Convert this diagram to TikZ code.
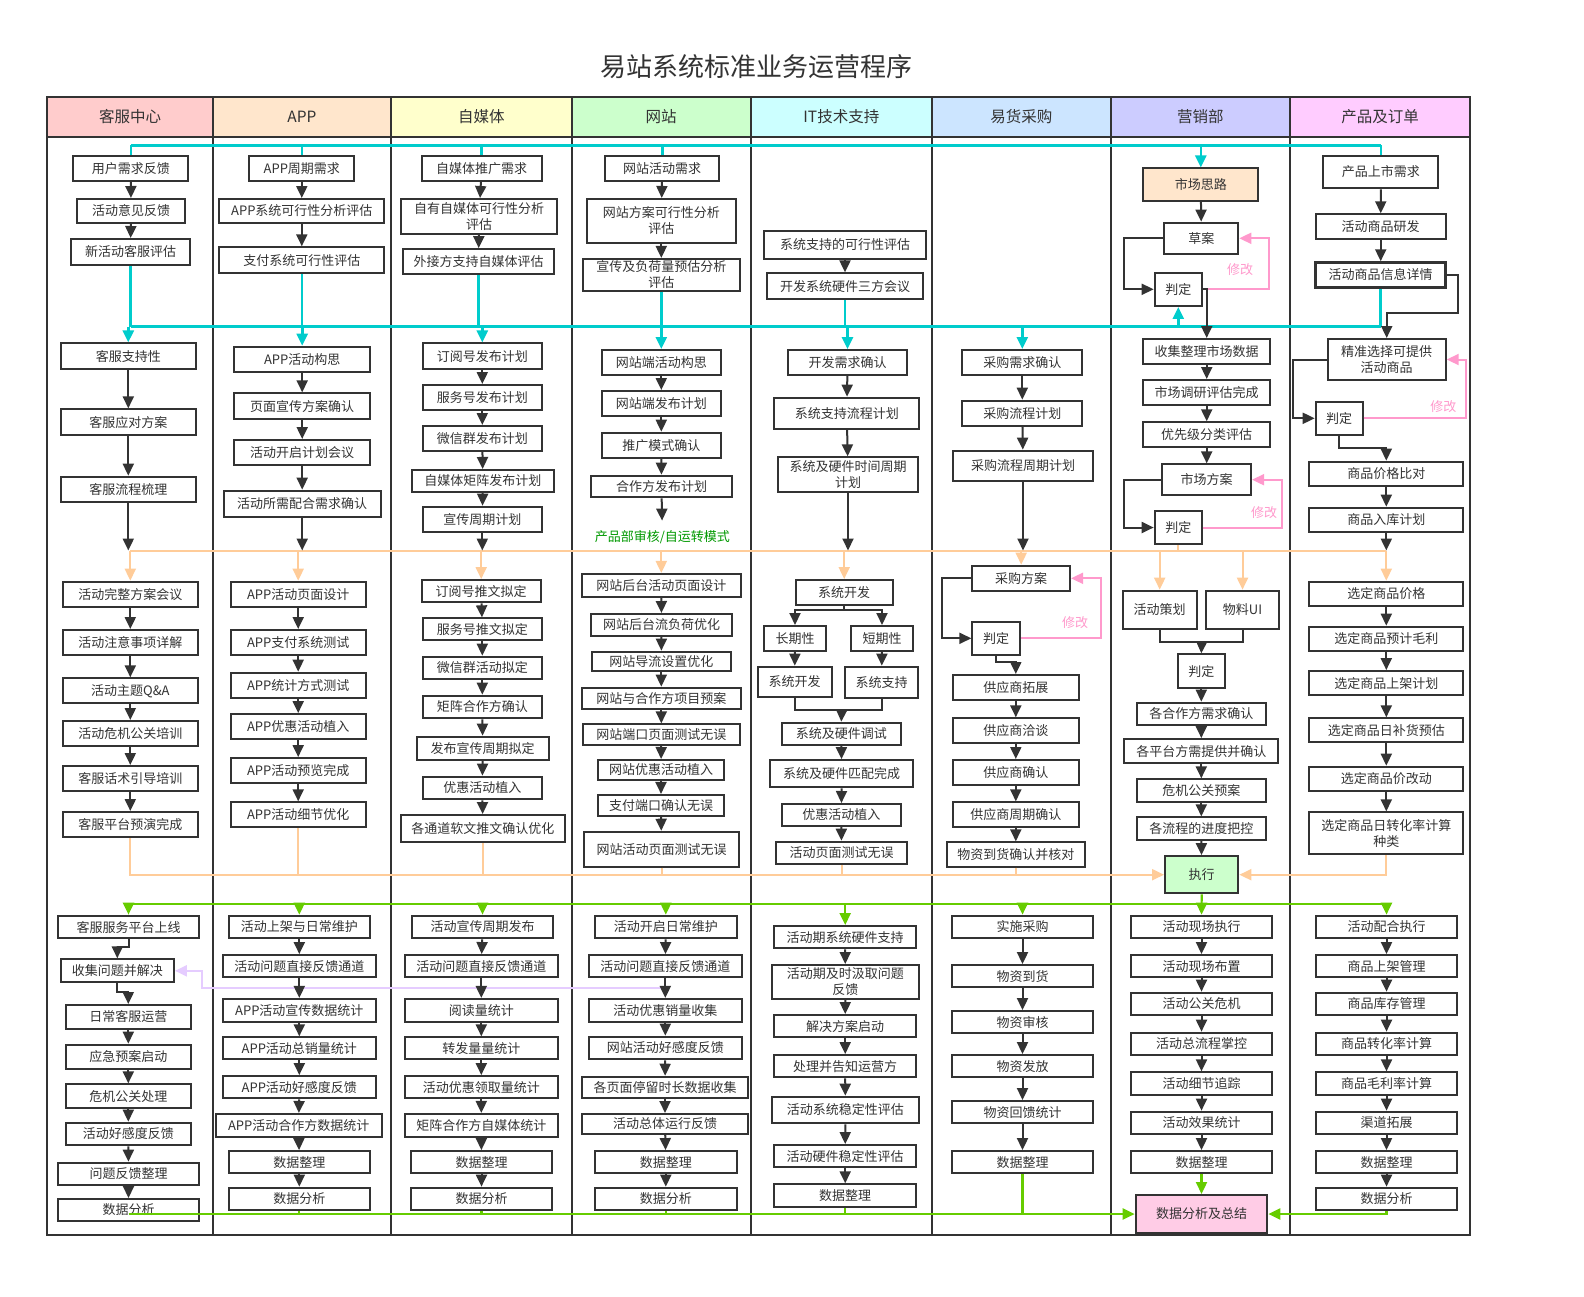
\documentclass[tikz,border=0pt]{standalone}
\usepackage{fontspec}
\setmainfont{Noto Sans CJK SC}
\usetikzlibrary{arrows.meta}

\definecolor{ink}{HTML}{333333}
\definecolor{lnCyan}{HTML}{00CCCC}
\definecolor{lnOrange}{HTML}{FFCC99}
\definecolor{lnGreen}{HTML}{66CC00}
\definecolor{lnPink}{HTML}{FF99CC}
\definecolor{lnPurple}{HTML}{E5CCFF}
\definecolor{txGreen}{HTML}{009900}
\definecolor{hdA}{HTML}{FFCCCC}
\definecolor{hdB}{HTML}{FFE6CC}
\definecolor{hdC}{HTML}{FFFFCC}
\definecolor{hdD}{HTML}{CCFFCC}
\definecolor{hdE}{HTML}{CCFFFF}
\definecolor{hdF}{HTML}{CCE5FF}
\definecolor{hdG}{HTML}{CCCCFF}
\definecolor{hdH}{HTML}{FFCCFF}
\definecolor{fillRose}{HTML}{FFCCE6}

\begin{document}
\begin{tikzpicture}[x=1pt, y=-1pt,
    >={Triangle[length=12pt,width=11pt]},
    box/.style={draw=ink, line width=2pt, fill=white, text=ink, align=center,
      inner sep=0pt, font=\fontsize{13}{16}\selectfont},
    wh/.style 2 args={minimum width=#1, minimum height=#2},
    head/.style={text=ink, inner sep=0pt, minimum height=40, font=\fontsize{15.5}{18}\selectfont},
    lane/.style={draw=ink, line width=2pt},
    flow/.style={draw=ink, line width=2pt},
    arr/.style={flow, ->},
    cyanl/.style={draw=lnCyan, line width=2.6pt},
    cyana/.style={cyanl, ->},
    orgl/.style={draw=lnOrange, line width=2pt},
    orga/.style={orgl, ->},
    grnl/.style={draw=lnGreen, line width=2.2pt},
    grna/.style={grnl, ->},
    pinka/.style={draw=lnPink, line width=2pt, ->},
    purpa/.style={draw=lnPurple, line width=2pt, ->},
    note/.style={text=lnPink, inner sep=0pt, font=\fontsize{13}{16}\selectfont}]

\path[use as bounding box, fill=white] (0,0) rectangle (1584,1296);

% title and lane heads
\node[text=ink, font=\fontsize{26}{30}\selectfont] (title) at (756.7,66.7) {易站系统标准业务运营程序};
\node[head, fill=hdA, minimum width=165.4] (h1) at (130,116.7) {客服中心};
\node[head, fill=hdB, minimum width=178.3] (h2) at (301.85,116.7) {APP};
\node[head, fill=hdC, minimum width=180.7] (h3) at (481.35,116.7) {自媒体};
\node[head, fill=hdD, minimum width=179] (h4) at (661.2,116.7) {网站};
\node[head, fill=hdE, minimum width=181.3] (h5) at (841.35,116.7) {IT技术支持};
\node[head, fill=hdF, minimum width=178.7] (h6) at (1021.35,116.7) {易货采购};
\node[head, fill=hdG, minimum width=179.3] (h7) at (1200.35,116.7) {营销部};
\node[head, fill=hdH, minimum width=180] (h8) at (1380,116.7) {产品及订单};
\draw[lane] (47.3,96.7) rectangle (1470,1235);
\draw[lane] (47.3,136.7) -- (1470,136.7);
\foreach \x in {212.7,391,571.7,750.7,932,1110.7,1290}
  \draw[lane] (\x,96.7) -- (\x,1235);

% 客服中心
\node[box, wh={115}{25}] (kf1) at (130.8,168.3) {用户需求反馈};
\node[box, wh={108.7}{24}] (kf2) at (131,211) {活动意见反馈};
\node[box, wh={119.7}{26}] (kf3) at (130.5,252) {新活动客服评估};
\node[box, wh={135.3}{25.7}] (kf4) at (128.3,356.2) {客服支持性};
\node[box, wh={135.3}{25.7}] (kf5) at (128.3,422.2) {客服应对方案};
\node[box, wh={135.3}{25.7}] (kf6) at (128.3,489.5) {客服流程梳理};
\node[box, wh={135.3}{25.7}] (kf7) at (130.3,594.5) {活动完整方案会议};
\node[box, wh={135.3}{25}] (kf8) at (130.3,642.5) {活动注意事项详解};
\node[box, wh={135.3}{25}] (kf9) at (130.3,690.8) {活动主题Q\&A};
\node[box, wh={135.3}{25}] (kf10) at (130.3,733.5) {活动危机公关培训};
\node[box, wh={135.3}{25}] (kf11) at (130.3,778.5) {客服话术引导培训};
\node[box, wh={135.3}{25}] (kf12) at (130.3,824.5) {客服平台预演完成};
\node[box, wh={141.7}{22.7}] (kf13) at (128.5,927) {客服服务平台上线};
\node[box, wh={113.3}{23}] (kf14) at (117.3,970.8) {收集问题并解决};
\node[box, wh={125.3}{24}] (kf15) at (128.3,1017) {日常客服运营};
\node[box, wh={125.3}{24.3}] (kf16) at (128.3,1056.8) {应急预案启动};
\node[box, wh={125.3}{24}] (kf17) at (128.3,1096.3) {危机公关处理};
\node[box, wh={125.3}{22.7}] (kf18) at (128.3,1134) {活动好感度反馈};
\node[box, wh={141.7}{22.3}] (kf19) at (128.5,1173.8) {问题反馈整理};
\node[box, wh={141.7}{22}] (kf20) at (128.5,1210) {数据分析};

% APP
\node[box, wh={105}{25}] (ap1) at (301.8,168.3) {APP周期需求};
\node[box, wh={164.7}{24}] (ap2) at (301.8,211) {APP系统可行性分析评估};
\node[box, wh={164.7}{26}] (ap3) at (301.8,260.3) {支付系统可行性评估};
\node[box, wh={135.7}{25.7}] (ap4) at (302.2,359.5) {APP活动构思};
\node[box, wh={135.7}{25.7}] (ap5) at (302.2,406.2) {页面宣传方案确认};
\node[box, wh={135.7}{25}] (ap6) at (302.2,452.5) {活动开启计划会议};
\node[box, wh={157.3}{26.7}] (ap7) at (302.2,504) {活动所需配合需求确认};
\node[box, wh={135}{25.7}] (ap8) at (298.2,594.5) {APP活动页面设计};
\node[box, wh={135}{25}] (ap9) at (298.2,642.5) {APP支付系统测试};
\node[box, wh={135}{25.7}] (ap10) at (298.2,685.5) {APP统计方式测试};
\node[box, wh={135}{25.3}] (ap11) at (298.2,726.7) {APP优惠活动植入};
\node[box, wh={135}{25.3}] (ap12) at (298.2,770.7) {APP活动预览完成};
\node[box, wh={135}{25}] (ap13) at (298.2,814.8) {APP活动细节优化};
\node[box, wh={141.3}{22.7}] (ap14) at (299.3,927) {活动上架与日常维护};
\node[box, wh={153}{22.3}] (ap15) at (299.3,966.2) {活动问题直接反馈通道};
\node[box, wh={153}{22.7}] (ap16) at (299.3,1010.3) {APP活动宣传数据统计};
\node[box, wh={153}{22}] (ap17) at (299.3,1048.3) {APP活动总销量统计};
\node[box, wh={153}{22.3}] (ap18) at (299.3,1087.2) {APP活动好感度反馈};
\node[box, wh={166}{22.7}] (ap19) at (298.7,1125.3) {APP活动合作方数据统计};
\node[box, wh={141.3}{22.3}] (ap20) at (299.3,1162.2) {数据整理};
\node[box, wh={141.3}{22.3}] (ap21) at (299.3,1198.8) {数据分析};

% 自媒体
\node[box, wh={120}{25}] (zm1) at (481.7,168.3) {自媒体推广需求};
\node[box, wh={156.7}{35}] (zm2) at (479,216.5) {自有自媒体可行性分析\\评估};
\node[box, wh={151.7}{25.3}] (zm3) at (478.5,261.7) {外接方支持自媒体评估};
\node[box, wh={119.3}{25.7}] (zm4) at (482.3,356.2) {订阅号发布计划};
\node[box, wh={119.3}{25}] (zm5) at (482.3,397.5) {服务号发布计划};
\node[box, wh={119.3}{25}] (zm6) at (482.3,438.5) {微信群发布计划};
\node[box, wh={142.3}{21.7}] (zm7) at (482.8,480.8) {自媒体矩阵发布计划};
\node[box, wh={119.3}{25.7}] (zm8) at (482.3,519.5) {宣传周期计划};
\node[box, wh={119}{22.3}] (zm9) at (481.2,591.2) {订阅号推文拟定};
\node[box, wh={119.3}{21.7}] (zm10) at (482.3,629.2) {服务号推文拟定};
\node[box, wh={119.3}{22.7}] (zm11) at (482.3,668) {微信群活动拟定};
\node[box, wh={119.3}{22.7}] (zm12) at (482.3,707) {矩阵合作方确认};
\node[box, wh={132}{23.3}] (zm13) at (482.7,748.3) {发布宣传周期拟定};
\node[box, wh={119.3}{22.7}] (zm14) at (482.3,788) {优惠活动植入};
\node[box, wh={164.3}{27.3}] (zm15) at (482.8,828.7) {各通道软文推文确认优化};
\node[box, wh={141.7}{22.7}] (zm16) at (482.5,927) {活动宣传周期发布};
\node[box, wh={152.7}{22.3}] (zm17) at (481.3,966.2) {活动问题直接反馈通道};
\node[box, wh={152.7}{22.7}] (zm18) at (481.3,1010.3) {阅读量统计};
\node[box, wh={152.7}{22}] (zm19) at (481.3,1048.3) {转发量量统计};
\node[box, wh={152.7}{22.3}] (zm20) at (481.3,1087.2) {活动优惠领取量统计};
\node[box, wh={152.7}{22.7}] (zm21) at (481.3,1125.3) {矩阵合作方自媒体统计};
\node[box, wh={141.7}{22.3}] (zm22) at (481.5,1162.2) {数据整理};
\node[box, wh={141.7}{22.3}] (zm23) at (481.5,1198.8) {数据分析};

% 网站
\node[box, wh={114.3}{25}] (wz1) at (662.2,168.3) {网站活动需求};
\node[box, wh={149.3}{43.7}] (wz2) at (661.3,220.8) {网站方案可行性分析\\评估};
\node[box, wh={157.3}{31.7}] (wz3) at (661.3,274.8) {宣传及负荷量预估分析\\评估};
\node[box, wh={119.3}{25}] (wz4) at (661.3,362.5) {网站端活动构思};
\node[box, wh={119.3}{25}] (wz5) at (661.3,403.5) {网站端发布计划};
\node[box, wh={119.3}{25}] (wz6) at (661.3,445.2) {推广模式确认};
\node[box, wh={141.7}{21.7}] (wz7) at (661.5,486.5) {合作方发布计划};
\node[text=txGreen, inner sep=0pt, font=\fontsize{13}{16}\selectfont] (wzt) at (662.3,537.5) {产品部审核/自运转模式};
\node[box, wh={159.3}{22.7}] (wz8) at (661.3,585.3) {网站后台活动页面设计};
\node[box, wh={141.7}{22}] (wz9) at (661.5,625) {网站后台流负荷优化};
\node[box, wh={139.3}{19.3}] (wz10) at (661.3,661.3) {网站导流设置优化};
\node[box, wh={159.3}{21.3}] (wz11) at (661.3,698.3) {网站与合作方项目预案};
\node[box, wh={157.3}{20.7}] (wz12) at (661.3,734.7) {网站端口页面测试无误};
\node[box, wh={126.7}{20}] (wz13) at (661,770) {网站优惠活动植入};
\node[box, wh={126.7}{20.7}] (wz14) at (661,805.3) {支付端口确认无误};
\node[box, wh={155}{35}] (wz15) at (661.5,849.2) {网站活动页面测试无误};
\node[box, wh={141.7}{22.7}] (wz16) at (665.8,927) {活动开启日常维护};
\node[box, wh={152.7}{22.3}] (wz17) at (665.3,966.2) {活动问题直接反馈通道};
\node[box, wh={152.7}{22.7}] (wz18) at (665.3,1010.3) {活动优惠销量收集};
\node[box, wh={152.7}{22.7}] (wz19) at (665.3,1048) {网站活动好感度反馈};
\node[box, wh={166.7}{21}] (wz20) at (665,1087.2) {各页面停留时长数据收集};
\node[box, wh={166.7}{20}] (wz21) at (665,1124) {活动总体运行反馈};
\node[box, wh={141.7}{22.3}] (wz22) at (665.8,1162.2) {数据整理};
\node[box, wh={141.7}{22.3}] (wz23) at (665.8,1198.8) {数据分析};

% IT技术支持
\node[box, wh={162}{28}] (it1) at (845,245) {系统支持的可行性评估};
\node[box, wh={156.7}{25.7}] (it2) at (845,286.2) {开发系统硬件三方会议};
\node[box, wh={119.7}{25}] (it3) at (847.5,362.5) {开发需求确认};
\node[box, wh={145}{31.3}] (it4) at (846.8,413.3) {系统支持流程计划};
\node[box, wh={140.7}{34.3}] (it5) at (848,474.5) {系统及硬件时间周期\\计划};
\node[box, wh={97}{25}] (it6) at (844.2,592.5) {系统开发};
\node[box, wh={62}{25}] (it7) at (795,638.5) {长期性};
\node[box, wh={62.7}{25}] (it8) at (882,638.5) {短期性};
\node[box, wh={74}{30}] (it9) at (794.7,681.7) {系统开发};
\node[box, wh={73.3}{31.7}] (it10) at (881.7,682.5) {系统支持};
\node[box, wh={119.3}{22.3}] (it11) at (841.3,733.8) {系统及硬件调试};
\node[box, wh={143.3}{27.3}] (it12) at (841.7,773.7) {系统及硬件匹配完成};
\node[box, wh={119.3}{22}] (it13) at (841.3,815) {优惠活动植入};
\node[box, wh={131.7}{22.3}] (it14) at (841.5,852.8) {活动页面测试无误};
\node[box, wh={141.7}{22.3}] (it15) at (845.2,937.2) {活动期系统硬件支持};
\node[box, wh={147.3}{34}] (it16) at (845.3,982) {活动期及时汲取问题\\反馈};
\node[box, wh={141.7}{22.3}] (it17) at (845.2,1026.2) {解决方案启动};
\node[box, wh={141.7}{22.3}] (it18) at (845.2,1066.2) {处理并告知运营方};
\node[box, wh={147.3}{26.7}] (it19) at (845.3,1110) {活动系统稳定性评估};
\node[box, wh={141.7}{22.3}] (it20) at (845.2,1156.2) {活动硬件稳定性评估};
\node[box, wh={141.7}{23}] (it21) at (845.2,1195.8) {数据整理};

% 易货采购
\node[box, wh={120}{25}] (hg1) at (1022.3,362.5) {采购需求确认};
\node[box, wh={120}{25.3}] (hg2) at (1022.3,413.3) {采购流程计划};
\node[box, wh={140.7}{30.3}] (hg3) at (1023,465.8) {采购流程周期计划};
\node[box, wh={97.7}{25.3}] (hg4) at (1021.2,578.3) {采购方案};
\node[box, wh={47.7}{33.3}] (hg5) at (996.2,638.3) {判定};
\node[box, wh={126.3}{25}] (hg6) at (1015.8,687.5) {供应商拓展};
\node[box, wh={126.3}{25}] (hg7) at (1015.8,730.8) {供应商洽谈};
\node[box, wh={126.3}{25}] (hg8) at (1015.8,772.5) {供应商确认};
\node[box, wh={126.3}{24.3}] (hg9) at (1015.8,814.5) {供应商周期确认};
\node[box, wh={138.3}{24.3}] (hg10) at (1015.8,854.5) {物资到货确认并核对};
\node[box, wh={141.7}{22.7}] (hg11) at (1022.5,927) {实施采购};
\node[box, wh={141.7}{22.3}] (hg12) at (1022.5,976.2) {物资到货};
\node[box, wh={141.7}{22.3}] (hg13) at (1022.5,1022.2) {物资审核};
\node[box, wh={141.7}{22.3}] (hg14) at (1022.5,1066.2) {物资发放};
\node[box, wh={141.7}{22.3}] (hg15) at (1022.5,1112.2) {物资回馈统计};
\node[box, wh={141.7}{22.3}] (hg16) at (1022.5,1162.2) {数据整理};

% 营销部
\node[box, wh={115}{32.7}, fill=hdB] (yx1) at (1200.8,184.7) {市场思路};
\node[box, wh={74}{31.3}] (yx2) at (1201.3,238.3) {草案};
\node[box, wh={47.3}{33.3}] (yx3) at (1178.3,289.3) {判定};
\node[box, wh={126.7}{25}] (yx4) at (1206.7,351.5) {收集整理市场数据};
\node[box, wh={126.7}{25}] (yx5) at (1206.7,392.5) {市场调研评估完成};
\node[box, wh={126.7}{25}] (yx6) at (1206.7,434.8) {优先级分类评估};
\node[box, wh={88.7}{30.7}] (yx7) at (1206.7,479.7) {市场方案};
\node[box, wh={47.3}{33}] (yx8) at (1178.3,527.5) {判定};
\node[box, wh={74}{38.3}] (yx9) at (1159.7,609.8) {活动策划};
\node[box, wh={73.7}{38.3}] (yx10) at (1242.5,609.8) {物料UI};
\node[box, wh={47.3}{34}] (yx11) at (1201.3,671.3) {判定};
\node[box, wh={129.3}{22.3}] (yx12) at (1201.3,713.8) {各合作方需求确认};
\node[box, wh={154}{24.3}] (yx13) at (1201.3,751.2) {各平台方需提供并确认};
\node[box, wh={129.3}{23}] (yx14) at (1201.3,790.8) {危机公关预案};
\node[box, wh={129.3}{22.7}] (yx15) at (1201.3,828.7) {各流程的进度把控};
\node[box, wh={73.3}{37.3}, fill=hdD] (exe) at (1201.7,874.7) {执行};
\node[box, wh={141.7}{22.7}] (yx16) at (1201.5,927) {活动现场执行};
\node[box, wh={141.7}{22.3}] (yx17) at (1201.5,966.2) {活动现场布置};
\node[box, wh={141.7}{22.3}] (yx18) at (1201.5,1003.8) {活动公关危机};
\node[box, wh={141.7}{22.3}] (yx19) at (1201.5,1043.8) {活动总流程掌控};
\node[box, wh={141.7}{22.7}] (yx20) at (1201.5,1083.7) {活动细节追踪};
\node[box, wh={141.7}{22.3}] (yx21) at (1201.5,1122.8) {活动效果统计};
\node[box, wh={141.7}{22.3}] (yx22) at (1201.5,1162.2) {数据整理};
\node[box, wh={131.7}{38}, fill=fillRose] (sum) at (1201.5,1214) {数据分析及总结};

% 产品及订单
\node[box, wh={115}{32.7}] (cp1) at (1380.8,172) {产品上市需求};
\node[box, wh={130}{25}] (cp2) at (1380.7,226.8) {活动商品研发};
\node[box, wh={130}{24.7}, line width=2.8pt] (cp3) at (1380.7,275) {活动商品信息详情};
\node[box, wh={118}{41}] (cp4) at (1386.7,359.5) {精准选择可提供\\活动商品};
\node[box, wh={47}{33.3}] (cp5) at (1339.2,418.3) {判定};
\node[box, wh={154}{24.3}] (cp6) at (1386.3,473.8) {商品价格比对};
\node[box, wh={154}{24.7}] (cp7) at (1386.3,520) {商品入库计划};
\node[box, wh={154}{24.3}] (cp8) at (1386.3,593.8) {选定商品价格};
\node[box, wh={154}{24.3}] (cp9) at (1386.3,638.8) {选定商品预计毛利};
\node[box, wh={154}{24.3}] (cp10) at (1386.3,683.2) {选定商品上架计划};
\node[box, wh={154}{24}] (cp11) at (1386.3,730.3) {选定商品日补货预估};
\node[box, wh={154}{24.3}] (cp12) at (1386.3,778.8) {选定商品价改动};
\node[box, wh={154}{41.7}] (cp13) at (1386.3,833.2) {选定商品日转化率计算\\种类};
\node[box, wh={141.7}{22.7}] (cp14) at (1386.5,927) {活动配合执行};
\node[box, wh={141.7}{22.3}] (cp15) at (1386.5,966.2) {商品上架管理};
\node[box, wh={141.7}{22.3}] (cp16) at (1386.5,1003.8) {商品库存管理};
\node[box, wh={141.7}{22.3}] (cp17) at (1386.5,1043.8) {商品转化率计算};
\node[box, wh={141.7}{22.7}] (cp18) at (1386.5,1083.7) {商品毛利率计算};
\node[box, wh={141.7}{22.3}] (cp19) at (1386.5,1122.8) {渠道拓展};
\node[box, wh={141.7}{22.3}] (cp20) at (1386.5,1162.2) {数据整理};
\node[box, wh={141.7}{22.3}] (cp21) at (1386.5,1198.8) {数据分析};

% trunk lines
\coordinate (ctop) at (0,145.3);
\coordinate (cbot) at (0,326.7);
\coordinate (otop) at (0,550.5);
\coordinate (gtop) at (0,904.3);
\coordinate (gbot) at (0,1214);
\coordinate (cpk) at (0,312.7);

% feedback to 收集问题并解决
\draw[purpa] (wz17.south) |- (202.3,988.3) |- (kf14.east);

% cyan
\draw[cyanl] (kf1.north |- ctop) -- (cp1.north |- ctop);
\foreach \n in {kf1,ap1,zm1,wz1,cp1}
  \draw[cyanl] (\n.north |- ctop) -- (\n.north);
\draw[cyana] (yx1.north |- ctop) -- (yx1.north);
\draw[cyanl] (kf3.south |- cbot) -- (cp3.south |- cbot);
\foreach \n in {kf3,ap3,zm3,wz3,it2,cp3}
  \draw[cyanl] (\n.south) -- (\n.south |- cbot);
\foreach \n in {kf4,ap4,zm4,wz4,it3,hg1}
  \draw[cyana] (\n.north |- cbot) -- (\n.north);
\draw[cyana] (yx3.south |- cbot) -- (yx3.south);

% orange
\draw[orgl] (kf7.north |- otop) -- (cp8.north |- otop);
\draw[orgl] (yx8.south) -- (yx8.south |- otop);
\foreach \n in {kf6,ap7,zm8,it5,hg3,cp7}
  \draw[arr] (\n.south) -- (\n.south |- otop);
\draw[arr, shorten >=10pt] (wz7) -- (wzt);
\foreach \n in {kf7,ap8,zm9,wz8,it6,hg4,yx9,yx10,cp8}
  \draw[orga] (\n.north |- otop) -- (\n.north);
\draw[orga] (kf12.south) |- (exe.west);
\foreach \n in {ap13,zm15,wz15,it14,hg10}
  \draw[orgl] (\n.south) -- (\n.south |- exe.west);
\draw[orga] (cp13.south) |- (exe.east);

% green
\draw[grnl] (kf13.north |- gtop) -- (cp14.north |- gtop);
\draw[grna] (exe.south) -- (yx16.north);
\foreach \n in {kf13,ap14,zm16,wz16,it15,hg11,cp14}
  \draw[grna] (\n.north |- gtop) -- (\n.north);
\draw[grna] (kf20 |- gbot) -- (sum.west);
\foreach \n in {ap21,zm23,wz23,it21,hg16}
  \draw[grnl] (\n.south) -- (\n.south |- gbot);
\draw[grna] (yx22) -- (sum);
\draw[grna] (cp21.south) |- (sum.east);

% lane chains
\foreach \i/\j in {1/2,2/3,4/5,5/6,7/8,8/9,9/10,10/11,11/12,15/16,16/17,17/18,18/19,19/20}
  \draw[arr] (kf\i) -- (kf\j);
\draw[arr] (kf13.south) -- ++(0,7.7) -| (kf14.north);
\draw[arr] (kf14.south) -- ++(0,8.7) -| (kf15.north);
\foreach \i/\j in {1/2,2/3,4/5,5/6,6/7,8/9,9/10,10/11,11/12,12/13,14/15,15/16,16/17,17/18,18/19,19/20,20/21}
  \draw[arr] (ap\i) -- (ap\j);
\foreach \i/\j in {1/2,2/3,4/5,5/6,6/7,7/8,9/10,10/11,11/12,12/13,13/14,14/15,16/17,17/18,18/19,19/20,20/21,21/22,22/23}
  \draw[arr] (zm\i) -- (zm\j);
\foreach \i/\j in {1/2,2/3,4/5,5/6,6/7,8/9,9/10,10/11,11/12,12/13,13/14,14/15,16/17,17/18,18/19,19/20,20/21,21/22,22/23}
  \draw[arr] (wz\i) -- (wz\j);
\foreach \i/\j in {1/2,3/4,4/5,7/9,8/10,11/12,12/13,13/14,15/16,16/17,17/18,18/19,19/20,20/21}
  \draw[arr] (it\i) -- (it\j);
\coordinate (itb) at (844.2,610);
\coordinate (itm) at (841.7,710);
\draw[flow] (it6) -- (itb);
\draw[arr] (itb) -| (it7.north);
\draw[arr] (itb) -| (it8.north);
\draw[flow] (it9.south) |- (itm);
\draw[flow] (it10.south) |- (itm);
\draw[arr] (itm) -- (it11.north);
\foreach \i/\j in {1/2,2/3,6/7,7/8,8/9,9/10,11/12,12/13,13/14,14/15,15/16}
  \draw[arr] (hg\i) -- (hg\j);
\draw[arr] (hg4.west) -- ++(-29.6,0) |- (hg5.west);
\draw[pinka] (hg5.east) -- ++(80,0) |- (hg4.east);
\node[note] (hgn) at (1075,622.3) {修改};
\draw[arr] (hg5.south) -- ++(0,6) -| (hg6.north);
\foreach \i/\j in {1/2,4/5,5/6,6/7,11/12,12/13,13/14,14/15,16/17,17/18,18/19,19/20,20/21,21/22}
  \draw[arr] (yx\i) -- (yx\j);
\draw[arr] (yx15) -- (exe);
\draw[arr] (yx2.west) -- ++(-39.3,0) |- (yx3.west);
\draw[pinka] (yx3.east) -- ++(65.7,0) |- (yx2.east);
\node[note] (yxn1) at (1240,269.3) {修改};
\draw[arr] (yx3.east) -| (yx4.north);
\draw[arr] (yx7.west) -- ++(-37.3,0) |- (yx8.west);
\draw[pinka] (yx8.east) -- ++(78.7,0) |- (yx7.east);
\node[note] (yxn2) at (1264.2,512.7) {修改};
\coordinate (yxm) at (1201.7,641.7);
\draw[flow] (yx9.south) |- (yxm);
\draw[flow] (yx10.south) |- (yxm);
\draw[arr] (yxm) -- (yx11.north);
\foreach \i/\j in {1/2,2/3,6/7,8/9,9/10,10/11,11/12,12/13,14/15,15/16,16/17,17/18,18/19,19/20,20/21}
  \draw[arr] (cp\i) -- (cp\j);
\draw[arr] (cp3.east) -- ++(10.7,0) |- (cp4.north |- cpk) -- (cp4.north);
\draw[arr] (cp4.west) -- ++(-33.7,0) |- (cp5.west);
\draw[pinka] (cp5.east) -- ++(102.3,0) |- (cp4.east);
\node[note] (cpn) at (1443.3,406.7) {修改};
\draw[arr] (cp5.south) -- ++(0,11.7) -| (cp6.north);
\end{tikzpicture}
\end{document}
